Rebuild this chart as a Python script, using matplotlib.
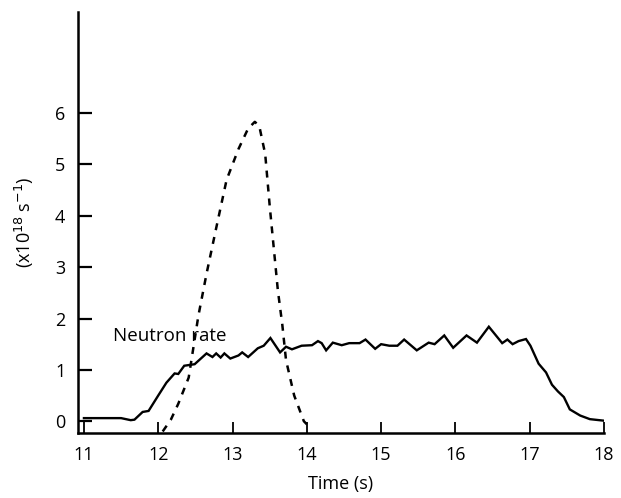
import matplotlib
matplotlib.use("Agg")
import matplotlib.pyplot as plt

plt.rcParams['font.family'] = ['Open Sans', 'DejaVu Sans']

# Neutron rate (solid)
t_rate = [11.0, 11.5, 11.63, 11.68, 11.79, 11.87, 12.0, 12.11, 12.22, 12.27, 12.35, 12.49,
          12.65, 12.73, 12.78, 12.84, 12.89, 12.97, 13.08, 13.13, 13.21, 13.34, 13.42, 13.51,
          13.64, 13.72, 13.80, 13.93, 14.07, 14.15, 14.20, 14.26, 14.35, 14.47, 14.57, 14.71,
          14.79, 14.92, 15.0, 15.11, 15.22, 15.31, 15.48, 15.64, 15.72, 15.85, 15.97, 16.15,
          16.29, 16.45, 16.63, 16.70, 16.77, 16.85, 16.95, 17.01, 17.12, 17.22, 17.30, 17.38,
          17.46, 17.54, 17.68, 17.81, 18.0]
rate = [0.06, 0.06, 0.02, 0.03, 0.18, 0.2, 0.5, 0.75, 0.93, 0.92, 1.08, 1.11,
        1.32, 1.25, 1.32, 1.24, 1.32, 1.22, 1.28, 1.34, 1.25, 1.42, 1.47, 1.62,
        1.34, 1.45, 1.40, 1.47, 1.48, 1.56, 1.52, 1.38, 1.53, 1.48, 1.52, 1.52,
        1.59, 1.41, 1.50, 1.47, 1.47, 1.59, 1.38, 1.53, 1.50, 1.67, 1.43, 1.67,
        1.53, 1.84, 1.52, 1.59, 1.50, 1.56, 1.60, 1.47, 1.12, 0.95, 0.71, 0.58,
        0.47, 0.23, 0.11, 0.04, 0.01]

# Dashed pulse
t_pulse = [12.06, 12.17, 12.27, 12.41, 12.54, 12.65, 12.78, 12.92, 13.08, 13.21, 13.30,
           13.36, 13.44, 13.50, 13.56, 13.61, 13.67, 13.72, 13.83, 13.96, 14.0]
pulse = [-0.2, 0.03, 0.34, 0.85, 2.05, 2.87, 3.76, 4.7, 5.3, 5.7, 5.83,
         5.75, 5.2, 4.2, 3.3, 2.55, 1.88, 1.19, 0.5, 0.0, -0.06]

xticks = [11, 12, 13, 14, 15, 16, 17, 18]
yticks = [0, 1, 2, 3, 4, 5, 6]

fig = plt.figure(figsize=(6.21, 4.98), dpi=100)
ax = fig.add_axes([0.1256, 0.1305, 0.847, 0.8455])

ax.plot(t_rate, rate, color='black', lw=1.7, solid_joinstyle='miter')
ax.plot(t_pulse, pulse, color='black', lw=1.8, linestyle=(0, (2.8, 2.8)))

ax.set_xlim(10.92, 18.0)
ax.set_ylim(-0.23, 7.97)
ax.set_xticks(xticks)
ax.set_yticks(yticks)
ax.spines['top'].set_visible(False)
ax.spines['right'].set_visible(False)
ax.spines['left'].set_linewidth(1.8)
ax.spines['bottom'].set_linewidth(1.8)
ax.tick_params(axis='x', direction='in', length=8, width=1.3, labelsize=13, pad=9)
ax.tick_params(axis='y', direction='in', length=10, width=1.6, labelsize=13, pad=9)

ax.text(11.39, 1.65, 'Neutron rate', fontsize=13.5, va='center', ha='left')
ax.set_xlabel('Time (s)', fontsize=13, labelpad=8)
ax.set_ylabel(r'(x10$^{18}$ s$^{-1}$)', fontsize=13, labelpad=14)

fig.savefig('out.png', dpi=100)
